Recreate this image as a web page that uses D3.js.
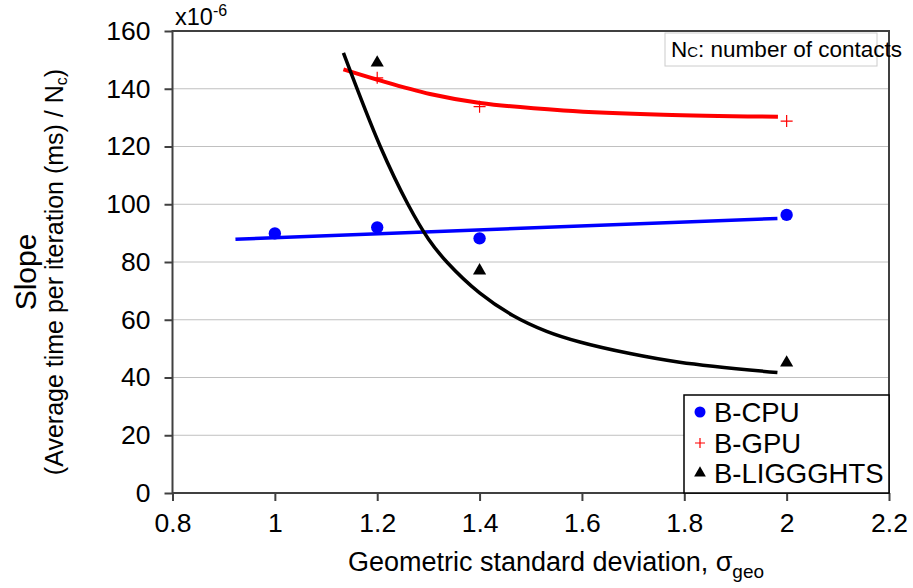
<!DOCTYPE html>
<meta charset="utf-8">
<style>
    body { margin: 0; background: #fff; }
    text { font-family: "Liberation Sans", Arial, sans-serif; fill: #000; }
    .grid line { stroke: #808080; stroke-width: 1; stroke-dasharray: 1,1; }
    .frame { fill: none; stroke: #404040; stroke-width: 2; }
</style>

<body>
    <script src="https://d3js.org/d3.v7.min.js"></script>
    <script>
        // tick labels
        var xTicks = [0.8, 1, 1.2, 1.4, 1.6, 1.8, 2, 2.2];
        var yTicks = [0, 20, 40, 60, 80, 100, 120, 140, 160];

        // measured points (slope x 1e-6)
        var cpuSigma = [1.0, 1.2, 1.4, 2.0];
        var cpuSlope = [89.9, 92.0, 88.2, 96.3];
        var gpuSigma = [1.2, 1.4, 2.0];
        var gpuSlope = [143.8, 133.8, 128.8];
        var ligSigma = [1.2, 1.4, 2.0];
        var ligSlope = [149.0, 77.0, 45.1];

        // trend lines
        var cpuTrendX = [0.923, 1.982];
        var cpuTrendY = [87.9, 95.1];
        var gpuTrendX = [1.134, 1.199, 1.303, 1.401, 1.564, 1.759, 1.983];
        var gpuTrendY = [146.7, 143.2, 138.2, 135.1, 132.5, 131.0, 130.3];
        var ligTrendX = [1.134, 1.206, 1.26, 1.30, 1.336, 1.40, 1.465, 1.531, 1.596, 1.694, 1.791, 1.982];
        var ligTrendY = [152.4, 120, 100, 88, 80, 69.3, 61.5, 56, 52.3, 48.3, 45.3, 41.7];

        var width = 913,
            height = 588,
            margin = { top: 31, right: 24, bottom: 95, left: 172.5 };

        var svg = d3.select("body").append("svg")
            .attr("width", width)
            .attr("height", height);

        var x = d3.scaleLinear().domain([0.8, 2.2]).range([margin.left, width - margin.right]),
            y = d3.scaleLinear().domain([0, 160]).range([height - margin.bottom, margin.top]);

        // grid
        svg.append("g")
            .attr("class", "grid")
            .selectAll("line")
            .data(yTicks.filter(function(d) { return d > 0 && d < 160; }))
            .enter().append("line")
            .attr("x1", x(0.8)).attr("x2", x(2.2))
            .attr("y1", function(d) { return y(d); })
            .attr("y2", function(d) { return y(d); });

        // axes
        var gx = svg.append("g")
            .attr("transform", "translate(0," + y(0) + ")")
            .call(d3.axisBottom(x).tickValues(xTicks).tickSize(8).tickPadding(12)
                .tickFormat(function(d) { return d3.format("")(+d.toFixed(1)); }));
        var gy = svg.append("g")
            .attr("transform", "translate(" + x(0.8) + ",0)")
            .call(d3.axisLeft(y).tickValues(yTicks).tickSize(8).tickPadding(14));
        [gx, gy].forEach(function(g) {
            g.select(".domain").remove();
            g.selectAll(".tick line").attr("stroke", "#404040").attr("stroke-width", 2);
            g.selectAll(".tick text").style("font-size", "26.5px").attr("fill", "#000");
        });

        svg.append("rect")
            .attr("class", "frame")
            .attr("x", x(0.8)).attr("y", y(160))
            .attr("width", x(2.2) - x(0.8))
            .attr("height", y(0) - y(160));

        // trend lines
        var line = d3.line()
            .curve(d3.curveCatmullRom.alpha(0.5))
            .x(function(d) { return x(d[0]); })
            .y(function(d) { return y(d[1]); });

        function pts(xs, ys) {
            return xs.map(function(v, i) { return [v, ys[i]]; });
        }

        svg.append("path")
            .attr("d", line(pts(cpuTrendX, cpuTrendY)))
            .attr("fill", "none").attr("stroke", "#0000ff").attr("stroke-width", 3.5);
        svg.append("path")
            .attr("d", line(pts(gpuTrendX, gpuTrendY)))
            .attr("fill", "none").attr("stroke", "#ff0000").attr("stroke-width", 4);
        svg.append("path")
            .attr("d", line(pts(ligTrendX, ligTrendY)))
            .attr("fill", "none").attr("stroke", "#000").attr("stroke-width", 3.5);

        // markers
        var circle = d3.symbol().type(d3.symbolCircle).size(120);
        var tri = d3.symbol().type(d3.symbolTriangle).size(75);

        function plus(g, cx, cy, s) {
            g.append("path")
                .attr("d", "M" + (cx - s) + "," + cy + "H" + (cx + s) + "M" + cx + "," + (cy - s) + "V" + (cy + s))
                .attr("stroke", "#ff0000").attr("stroke-width", 1.2).attr("fill", "none");
        }

        svg.append("g").selectAll("path")
            .data(pts(cpuSigma, cpuSlope))
            .enter().append("path")
            .attr("d", circle)
            .attr("fill", "#0000ff")
            .attr("transform", function(d) { return "translate(" + x(d[0]) + "," + y(d[1]) + ")"; });

        var gpuG = svg.append("g");
        pts(gpuSigma, gpuSlope).forEach(function(d) { plus(gpuG, x(d[0]), y(d[1]), 6); });

        svg.append("g").selectAll("path")
            .data(pts(ligSigma, ligSlope))
            .enter().append("path")
            .attr("d", tri)
            .attr("fill", "#000")
            .attr("transform", function(d) { return "translate(" + x(d[0]) + "," + y(d[1]) + ")"; });

        // exponent label
        var ex = svg.append("text")
            .attr("x", 175).attr("y", 25)
            .style("font-size", "23.5px")
            .text("x10");
        ex.append("tspan").attr("dy", -9).style("font-size", "16px").text("-6");

        // Nc note
        svg.append("rect")
            .attr("x", 665).attr("y", 33)
            .attr("width", 212).attr("height", 33)
            .attr("fill", "#fff").attr("stroke", "#cccccc").attr("stroke-width", 1);
        var nc = svg.append("text")
            .attr("x", 671).attr("y", 57)
            .style("font-size", "22.5px")
            .text("N");
        nc.append("tspan").style("font-size", "15px").text("C");
        nc.append("tspan").text(": number of contacts");

        // legend
        var leg = svg.append("g");
        leg.append("rect")
            .attr("x", 684).attr("y", 395)
            .attr("width", x(2.2) - 684).attr("height", y(0) - 395)
            .attr("fill", "#fff").attr("stroke", "#000").attr("stroke-width", 1.5);
        var legNames = ["B-CPU", "B-GPU", "B-LIGGGHTS"];
        var legY = [412, 443, 473];
        leg.append("path")
            .attr("d", d3.symbol().type(d3.symbolCircle).size(95))
            .attr("fill", "#0000ff")
            .attr("transform", "translate(700," + legY[0] + ")");
        plus(leg, 700, legY[1], 5);
        leg.append("path")
            .attr("d", d3.symbol().type(d3.symbolTriangle).size(60))
            .attr("fill", "#000")
            .attr("transform", "translate(700," + legY[2] + ")");
        leg.selectAll("text.name")
            .data(legNames)
            .enter().append("text")
            .attr("class", "name")
            .attr("x", 714)
            .attr("y", function(d, i) { return legY[i]; })
            .attr("dy", "0.36em")
            .style("font-size", "27.5px")
            .text(function(d) { return d; });

        // axis titles
        var xt = svg.append("text")
            .attr("x", 348).attr("y", 571)
            .style("font-size", "27px")
            .text("Geometric standard deviation, \u03c3");
        xt.append("tspan").attr("dy", 7).style("font-size", "19px").text("geo");

        svg.append("text")
            .attr("transform", "translate(36,272) rotate(-90)")
            .attr("text-anchor", "middle")
            .style("font-size", "30px")
            .text("Slope");
        var yt = svg.append("text")
            .attr("transform", "translate(63,272) rotate(-90)")
            .attr("text-anchor", "middle")
            .style("font-size", "25px")
            .text("(Average time per iteration (ms) / N");
        yt.append("tspan").attr("dy", 4).style("font-size", "16px").text("c");
        yt.append("tspan").attr("dy", -4).text(")");
    </script>
</body>
